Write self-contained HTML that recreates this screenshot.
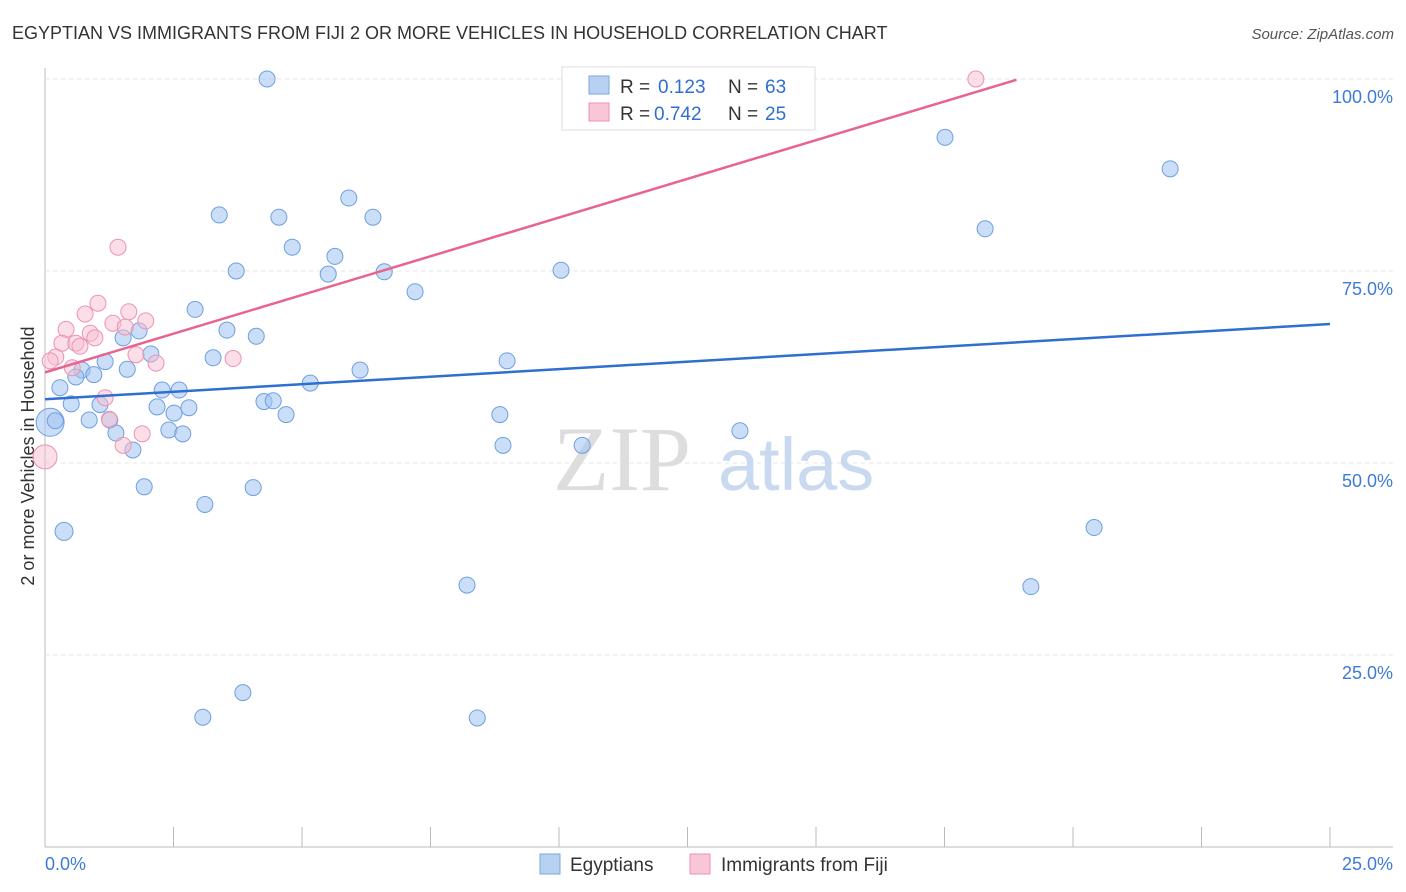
<!DOCTYPE html>
<html><head><meta charset="utf-8">
<style>
body{margin:0;background:#fff;font-family:"Liberation Sans",sans-serif;}
svg{display:block}
</style></head>
<body>
<svg id="chart" width="1406" height="892">
<text x="12" y="39" font-size="18" fill="#333">EGYPTIAN VS IMMIGRANTS FROM FIJI 2 OR MORE VEHICLES IN HOUSEHOLD CORRELATION CHART</text>
<text x="1394" y="39" font-size="15" fill="#555" font-style="italic" text-anchor="end">Source: ZipAtlas.com</text>
<g id="grid"></g>
<text x="553" y="490" font-size="92" fill="#ddd" font-family="Liberation Serif,serif">ZIP</text>
<text x="718" y="490" font-size="74" fill="#c9d9f0">atlas</text>
<text transform="translate(34,456) rotate(-90)" font-size="18" fill="#333" text-anchor="middle">2 or more Vehicles in Household</text>
<g id="marks"></g>
<g>
<rect x="562" y="67" width="253" height="63" fill="#fff" stroke="#ddd"/>
<rect x="589" y="76" width="20" height="18" fill="#b8d1f3" stroke="#7aa6e3"/>
<text x="620" y="93" font-size="19" fill="#333">R =</text>
<text x="658" y="93" font-size="19" fill="#2f6fd0">0.123</text>
<text x="728" y="93" font-size="19" fill="#333">N =</text>
<text x="765" y="93" font-size="19" fill="#2f6fd0">63</text>
<rect x="589" y="103" width="20" height="18" fill="#f8c6d6" stroke="#ee93b1"/>
<text x="620" y="120" font-size="19" fill="#333">R =</text>
<text x="654" y="120" font-size="19" fill="#2f6fd0">0.742</text>
<text x="728" y="120" font-size="19" fill="#333">N =</text>
<text x="765" y="120" font-size="19" fill="#2f6fd0">25</text>
</g>
<g>
<rect x="540" y="854" width="20" height="20" fill="#b8d1f3" stroke="#7aa6e3"/>
<text x="570" y="871" font-size="19" fill="#333">Egyptians</text>
<rect x="690" y="854" width="20" height="20" fill="#f8c6d6" stroke="#ee93b1"/>
<text x="721" y="871" font-size="19" fill="#333">Immigrants from Fiji</text>
</g>
</svg>
<script>
const xTicks=[0,2.5,5,7.5,10,12.5,15,17.5,20,22.5,25];
const yTicks=[25,50,75,100];
const yTickLabels=["25.0%","50.0%","75.0%","100.0%"];
const egyX=[4.32,3.39,4.55,5.91,6.38,4.81,5.64,3.72,5.51,6.60,7.20,10.04,2.92,3.54,4.11,1.52,1.83,2.06,3.27,1.17,1.60,0.72,0.95,0.60,0.29,2.28,2.61,5.16,6.13,8.99,0.51,1.07,2.18,2.51,2.80,4.26,4.44,4.69,0.86,1.26,0.10,1.38,2.41,2.68,1.71,8.85,8.91,10.45,13.52,1.93,3.11,4.05,0.37,8.21,3.07,3.85,8.41,17.51,18.29,21.89,20.41,19.18,0.2];
const egyY=[100,82.3,82.0,84.5,82.0,78.1,76.9,75.0,74.6,74.9,72.3,75.1,70.0,67.3,66.5,66.3,67.2,64.2,63.7,63.2,62.2,62.1,61.5,61.2,59.8,59.5,59.5,60.4,62.1,63.3,57.7,57.6,57.3,56.5,57.2,58.0,58.1,56.3,55.6,55.6,55.3,53.9,54.3,53.8,51.7,56.3,52.3,52.3,54.2,46.9,44.6,46.8,41.1,34.1,16.9,20.1,16.8,92.4,80.5,88.3,41.6,33.9,55.5];
const egyR=[8,8,8,8,8,8,8,8,8,8,8,8,8,8,8,8,8,8,8,8,8,8,8,8,8,8,8,8,8,8,8,8,8,8,8,8,8,8,8,8,14,8,8,8,8,8,8,8,8,8,8,8,9,8,8,8,8,8,8,8,8,8,8];
const fijiX=[18.11,1.42,1.03,0.78,1.63,1.96,1.32,1.56,0.41,0.88,0.97,0.33,0.60,0.68,0.21,1.77,3.66,2.16,0.53,1.17,1.25,1.89,1.52,0.0,0.1];
const fijiY=[100,78.1,70.8,69.4,69.7,68.5,68.2,67.7,67.4,66.9,66.3,65.6,65.6,65.2,63.8,64.1,63.6,63.0,62.4,58.5,55.7,53.8,52.3,50.8,63.3];
const egyLine=[58.3,68.1];
const fijiLine=[61.8,99.9,18.9];
const NS="http://www.w3.org/2000/svg";
const X=v=>45+v/25*1285, Y=v=>847-v/100*768;
const grid=document.getElementById('grid'), marks=document.getElementById('marks');
function mk(tag,attrs,parent){const e=document.createElementNS(NS,tag);for(const k in attrs)e.setAttribute(k,attrs[k]);parent.appendChild(e);return e;}
let ax=mk('line',{x1:45,y1:68,x2:45,y2:847,stroke:'#bbb'},grid);


let bx=mk('line',{x1:45,y1:847,x2:1393,y2:847,stroke:'#bbb'},grid);


xTicks.forEach(t=>{const l=mk('line',{x1:X(t),y1:827,x2:X(t),y2:847,stroke:'#bbb'},grid);

});
yTicks.forEach((t,i)=>{const l=mk('line',{x1:45,y1:Y(t),x2:1393,y2:Y(t),stroke:'#e4e4e4','stroke-dasharray':'4,4'},grid);


const tx=mk('text',{x:1393,y:Y(t)+24,'font-size':18,fill:'#3d7bd8','text-anchor':'end'},grid);tx.textContent=yTickLabels[i];

});
const x0=mk('text',{x:45,y:870,'font-size':18,fill:'#3d7bd8'},grid);x0.textContent='0.0%';


const x1=mk('text',{x:1393,y:870,'font-size':18,fill:'#3d7bd8','text-anchor':'end'},grid);x1.textContent='25.0%';


egyX.forEach((v,i)=>{const c=mk('circle',{cx:X(v),cy:Y(egyY[i]),r:egyR[i],fill:'rgba(160,195,240,0.55)',stroke:'#6f9fe0','stroke-width':1},marks);

});
fijiX.forEach((v,i)=>{const c=mk('circle',{cx:X(v),cy:Y(fijiY[i]),r:i==23?12:8,fill:'rgba(248,190,210,0.5)',stroke:'#ec93b0','stroke-width':1},marks);

});
const l1=mk('line',{x1:X(0),y1:Y(egyLine[0]),x2:X(25),y2:Y(egyLine[1]),stroke:'#2f6fd0','stroke-width':2.5},marks);


const l2=mk('line',{x1:X(0),y1:Y(fijiLine[0]),x2:X(fijiLine[2]),y2:Y(fijiLine[1]),stroke:'#e8648f','stroke-width':2.5},marks);


</script>
</body></html>
